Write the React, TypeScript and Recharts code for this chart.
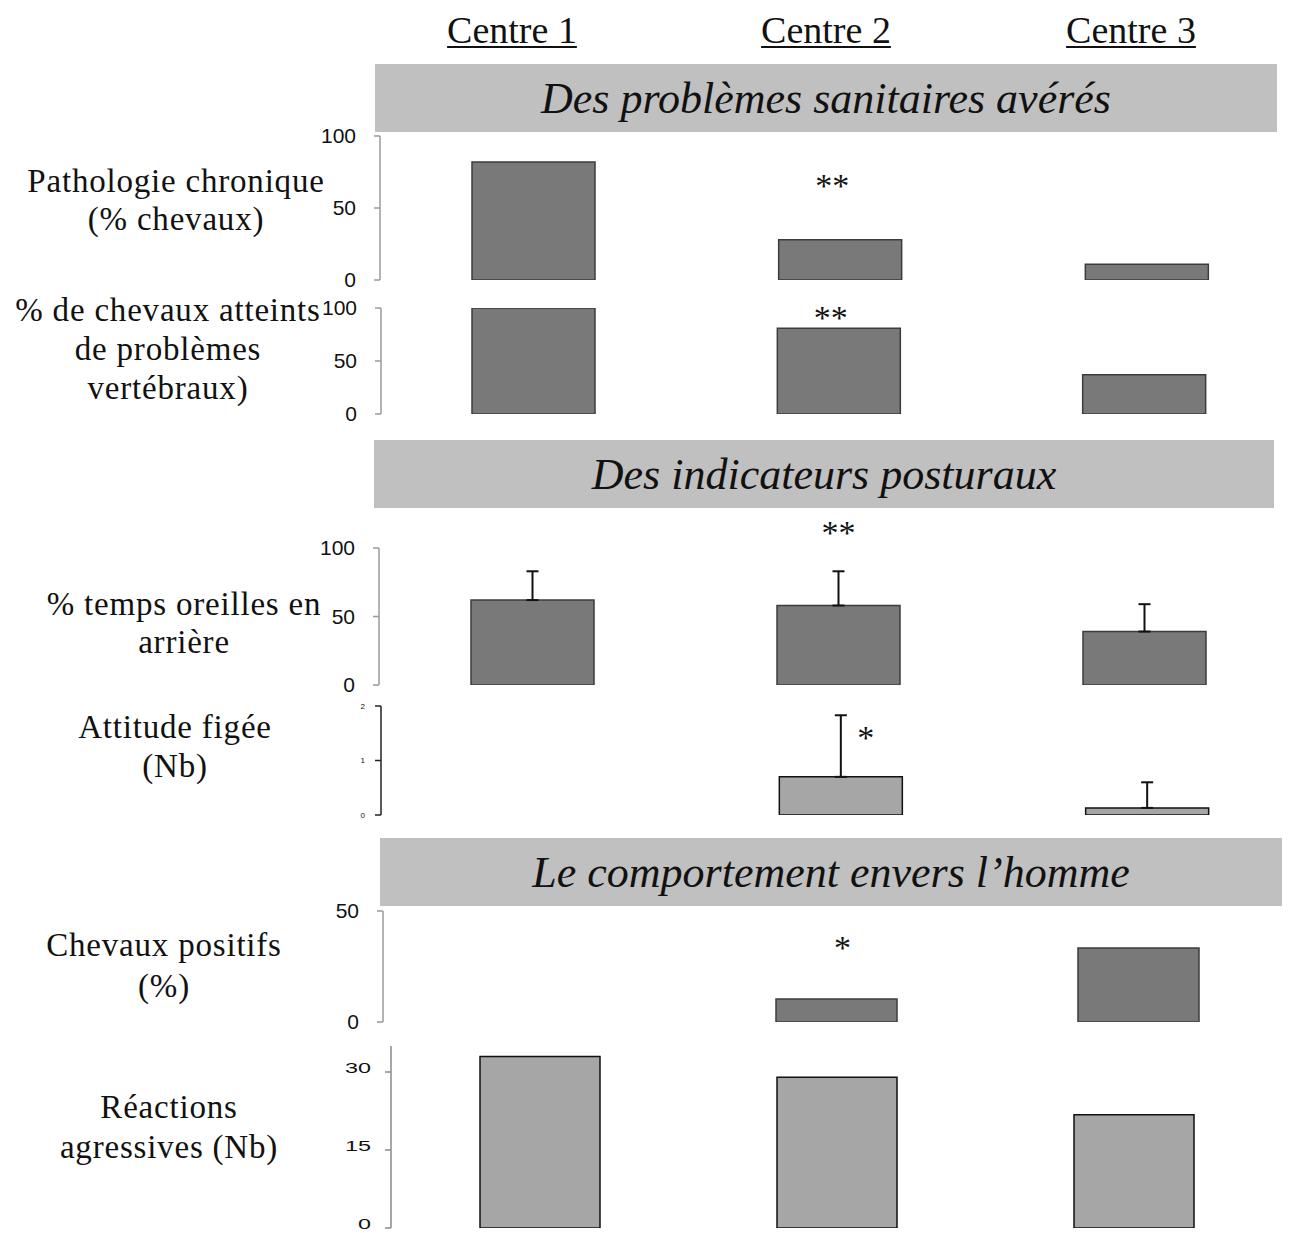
import React from "react";
import { BarChart, Bar, XAxis, YAxis, ErrorBar, LabelList } from "recharts";

const categories = ["Centre 1", "Centre 2", "Centre 3"];
const centreTitles = ["Centre 1", "Centre 2", "Centre 3"];

const pathologie = [82, 28, 11];
const pathologieSig = ["", "**", ""];

const vertebraux = [100, 81, 37];
const vertebrauxSig = ["", "**", ""];

const oreilles = [62, 58, 39];
const oreillesErr = [21, 25, 20];
const oreillesSig = ["", "**", ""];

const attitude = [0, 0.7, 0.13];
const attitudeErr = [0, 1.13, 0.47];
const attitudeSig = ["", "*", ""];

const positifs = [0, 10.4, 33.3];
const positifsSig = ["", "*", ""];

const agressives = [33, 29, 21.8];

const sectionTitles = [
  "Des problèmes sanitaires avérés",
  "Des indicateurs posturaux",
  "Le comportement envers l\u2019homme",
];

const ticks100 = [0, 50, 100];
const ticks2 = [0, 1, 2];
const ticks50 = [0, 50];
const ticks35 = [0, 15, 30];

const serif = '"Liberation Serif", "Times New Roman", serif';
const sans = '"Liberation Sans", Arial, sans-serif';

const DARK = "#797979";
const DARK_STROKE = "#3c3c3c";
const LIGHT = "#a6a6a6";
const LIGHT_STROKE = "#111111";

function build(values: number[], sig?: string[], err?: number[]) {
  return categories.map((c, i) => ({
    name: c,
    value: values[i],
    sig: sig ? sig[i] : "",
    err: err ? [0, err[i]] : undefined,
  }));
}

type PanelProps = {
  data: any[];
  plotLeft: number;
  plotRight: number;
  plotTop: number;
  plotBottom: number;
  domain: [number, number];
  ticks: number[];
  fill: string;
  stroke: string;
  barSize: number;
  hasErr?: boolean;
  sigDx?: number;
  sigDy?: number;
  axisColor: string;
  tickFont: number;
  tickStretch?: number;
  tickMargin?: number;
  tickDy?: string;
};

const TOPM = 60;
const BOTM = 16;
const YW = 80;

function Panel(p: PanelProps) {
  const width = p.plotRight - p.plotLeft + YW + 2;
  const height = p.plotBottom - p.plotTop + TOPM + BOTM;
  const renderTick = (props: any) => {
    const { x, y, payload } = props;
    const txt = String(payload.value);
    const extra: any = {};
    if (p.tickStretch) {
      extra.textLength = p.tickStretch * txt.length;
      extra.lengthAdjust = "spacingAndGlyphs";
    }
    return (
      <text
        x={x}
        y={y}
        dy={p.tickDy ?? "0.35em"}
        textAnchor="end"
        fontFamily={sans}
        fontSize={p.tickFont}
        fill="#111"
        {...extra}
      >
        {txt}
      </text>
    );
  };
  const renderSig = (props: any) => {
    const { x, y, width: w, value } = props;
    if (!value) return null;
    return (
      <text
        x={x + w / 2 + (p.sigDx || 0)}
        y={y + (p.sigDy || 0)}
        textAnchor="middle"
        fontFamily={serif}
        fontSize={34}
        fill="#111"
      >
        {value}
      </text>
    );
  };
  return (
    <div
      style={{
        position: "absolute",
        left: p.plotLeft - YW,
        top: p.plotTop - TOPM,
        width,
        height,
      }}
    >
      <BarChart
        width={width}
        height={height}
        data={p.data}
        margin={{ top: TOPM, right: 2, bottom: BOTM, left: 0 }}
        barCategoryGap={0}
      >
        <XAxis
          dataKey="name"
          tick={false}
          tickLine={false}
          height={0}
          axisLine={{ stroke: p.axisColor, strokeWidth: 1.5 }}
        />
        <YAxis
          width={YW}
          domain={p.domain}
          ticks={p.ticks}
          interval={0}
          allowDataOverflow
          tickSize={6}
          tickMargin={p.tickMargin ?? 18}
          tickLine={{ stroke: p.axisColor, strokeWidth: 1.5 }}
          axisLine={{ stroke: p.axisColor, strokeWidth: 1.5 }}
          tick={renderTick}
        />
        <Bar
          dataKey="value"
          fill={p.fill}
          stroke={p.stroke}
          strokeWidth={1.5}
          barSize={p.barSize}
          isAnimationActive={false}
        >
          {p.hasErr && (
            <ErrorBar
              dataKey="err"
              direction="y"
              width={6}
              stroke="#111"
              strokeWidth={2}
              isAnimationActive={false}
            />
          )}
          <LabelList dataKey="sig" content={renderSig} />
        </Bar>
      </BarChart>
    </div>
  );
}

function LeftLabel({ cx, lines, y0, lh }: { cx: number; lines: string[]; y0: number; lh: number }) {
  return (
    <>
      {lines.map((t, i) => (
        <div
          key={i}
          style={{
            position: "absolute",
            left: cx - 250,
            width: 500,
            top: y0 + i * lh - 21,
            height: 40,
            lineHeight: "40px",
            textAlign: "center",
            fontFamily: serif,
            fontSize: 33,
            letterSpacing: "0.8px",
            color: "#111",
            whiteSpace: "nowrap",
          }}
        >
          {t}
        </div>
      ))}
    </>
  );
}

function SectionHeader({ left, right, top, bottom, text }: { left: number; right: number; top: number; bottom: number; text: string }) {
  return (
    <div
      style={{
        position: "absolute",
        left,
        top,
        width: right - left,
        height: bottom - top,
        background: "#c0c0c0",
        display: "flex",
        alignItems: "center",
        justifyContent: "center",
        fontFamily: serif,
        fontStyle: "italic",
        fontSize: 44,
        color: "#111",
        whiteSpace: "nowrap",
      }}
    >
      {text}
    </div>
  );
}

export default function App() {
  const centreX = [512, 826, 1131];
  return (
    <div
      style={{
        position: "absolute",
        left: 0,
        top: 0,
        width: 1302,
        height: 1233,
        background: "#fff",
        overflow: "hidden",
      }}
    >
      {centreTitles.map((t, i) => (
        <div
          key={t}
          style={{
            position: "absolute",
            left: centreX[i] - 150,
            width: 300,
            top: 8,
            height: 44,
            lineHeight: "44px",
            textAlign: "center",
            fontFamily: serif,
            fontSize: 38,
            color: "#111",
            textDecoration: "underline",
            textDecorationThickness: "2px",
            textUnderlineOffset: "3px",
          }}
        >
          {t}
        </div>
      ))}

      <SectionHeader left={375} right={1277} top={64} bottom={132} text={sectionTitles[0]} />
      <SectionHeader left={374} right={1274} top={440} bottom={508} text={sectionTitles[1]} />
      <SectionHeader left={380} right={1282} top={838} bottom={906} text={sectionTitles[2]} />

      <LeftLabel cx={176} lines={["Pathologie chronique", "(% chevaux)"]} y0={182} lh={38} />
      <LeftLabel cx={168} lines={["% de chevaux atteints", "de problèmes", "vertébraux)"]} y0={311} lh={39} />
      <LeftLabel cx={184} lines={["% temps oreilles en", "arrière"]} y0={605} lh={38} />
      <LeftLabel cx={175} lines={["Attitude figée", "(Nb)"]} y0={728} lh={39} />
      <LeftLabel cx={164} lines={["Chevaux positifs", "(%)"]} y0={946} lh={41} />
      <LeftLabel cx={169} lines={["Réactions", "agressives (Nb)"]} y0={1108} lh={40} />

      <Panel
        data={build(pathologie, pathologieSig)}
        plotLeft={380}
        plotRight={1300}
        plotTop={136}
        plotBottom={280}
        domain={[0, 100]}
        ticks={ticks100}
        fill={DARK}
        stroke={DARK_STROKE}
        barSize={123}
        sigDx={-8}
        sigDy={-43}
        axisColor="#9a9a9a"
        tickFont={21}
      />
      <Panel
        data={build(vertebraux, vertebrauxSig)}
        plotLeft={381}
        plotRight={1297}
        plotTop={308}
        plotBottom={414}
        domain={[0, 100]}
        ticks={ticks100}
        fill={DARK}
        stroke={DARK_STROKE}
        barSize={123}
        sigDx={-8}
        sigDy={1}
        axisColor="#9a9a9a"
        tickFont={21}
      />
      <Panel
        data={build(oreilles, oreillesSig, oreillesErr)}
        plotLeft={379}
        plotRight={1297}
        plotTop={548}
        plotBottom={685}
        domain={[0, 100]}
        ticks={ticks100}
        fill={DARK}
        stroke={DARK_STROKE}
        barSize={123}
        hasErr
        sigDy={-62}
        axisColor="#9a9a9a"
        tickFont={21}
      />
      <Panel
        data={build(attitude, attitudeSig, attitudeErr)}
        plotLeft={381}
        plotRight={1300}
        plotTop={706}
        plotBottom={815}
        domain={[0, 2]}
        ticks={ticks2}
        fill={LIGHT}
        stroke={LIGHT_STROKE}
        barSize={123}
        hasErr
        sigDx={25}
        sigDy={-28}
        axisColor="#222"
        tickFont={8}
        tickMargin={10}
      />
      <Panel
        data={build(positifs, positifsSig)}
        plotLeft={383}
        plotRight={1289}
        plotTop={911}
        plotBottom={1022}
        domain={[0, 50]}
        ticks={ticks50}
        fill={DARK}
        stroke={DARK_STROKE}
        barSize={121}
        sigDx={6}
        sigDy={-40}
        axisColor="#9a9a9a"
        tickFont={21}
      />
      <Panel
        data={build(agressives)}
        plotLeft={391}
        plotRight={1282}
        plotTop={1046}
        plotBottom={1228}
        domain={[0, 35]}
        ticks={ticks35}
        fill={LIGHT}
        stroke={LIGHT_STROKE}
        barSize={120}
        axisColor="#8a8a8a"
        tickFont={14}
        tickStretch={13}
        tickMargin={14}
        tickDy="0.05em"
      />
    </div>
  );
}
